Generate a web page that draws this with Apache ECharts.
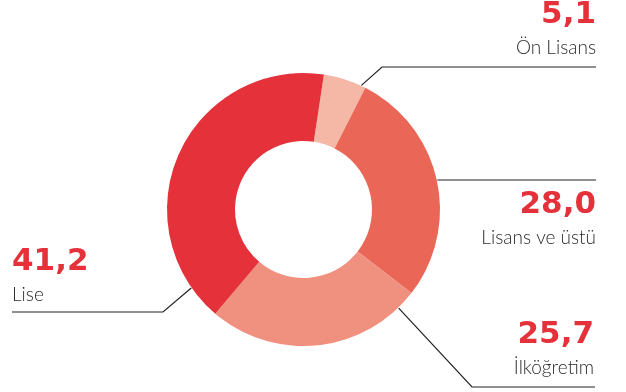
<!DOCTYPE html>
<html>
<head>
<meta charset="utf-8">
<script src="https://cdn.jsdelivr.net/npm/echarts@6/dist/echarts.min.js"></script>
<style>
html,body{margin:0;padding:0;background:#fff;}
#c{width:626px;height:392px;}
</style>
</head>
<body>
<div id="c"></div>
<script>
// Data
const categories = ['Ön Lisans', 'Lisans ve üstü', 'İlköğretim', 'Lise'];
const values = [5.1, 28.0, 25.7, 41.2];
const sliceColors = ['#F5B7A6', '#EA6657', '#F0907F', '#E4313A'];

// Layout (label placement; not data)
const CX = 303.5, CY = 209.5, R_IN = 68.5, R_OUT = 136.5;
const labelLayouts = [
  { x: 596, y: -3,  align: 'right', anchorDeg: 25,    elbow: [382, 67],  end: [596, 67] },
  { x: 596, y: 187, align: 'right', anchorDeg: 77.6,  elbow: null,       end: [596, 180] },
  { x: 594, y: 317, align: 'right', anchorDeg: 136,   elbow: [472, 387], end: [595, 387] },
  { x: 12,  y: 244, align: 'left',  anchorDeg: 235,   elbow: [163, 312], end: [12, 312] }
];

function anchor(deg) {
  const a = deg * Math.PI / 180;
  return [CX + (R_OUT + 0.5) * Math.sin(a), CY - (R_OUT + 0.5) * Math.cos(a)];
}

const chart = echarts.init(document.getElementById('c'), null, { renderer: 'canvas' });
chart.setOption({
  animation: false,
  backgroundColor: '#ffffff',
  series: [{
    type: 'pie',
    center: [CX, CY],
    radius: [R_IN, R_OUT],
    startAngle: 81.4,
    clockwise: true,
    avoidLabelOverlap: false,
    silent: true,
    data: categories.map((n, i) => ({
      name: n,
      value: values[i],
      itemStyle: { color: sliceColors[i] }
    })),
    label: {
      show: true,
      position: 'outside',
      formatter: p => '{v|' + p.value.toFixed(1).replace('.', ',') + '}\n{n|' + p.name + '}',
      rich: {
        v: { fontFamily: 'DejaVu Sans', fontWeight: 'bold', fontSize: 31, color: '#E4313A', lineHeight: 36 },
        n: { fontFamily: 'Lato', fontWeight: 300, fontSize: 19, color: '#2b2b2b', lineHeight: 29 }
      }
    },
    labelLine: {
      show: true,
      lineStyle: { color: '#222222', width: 1.2 }
    },
    labelLayout: function (params) {
      const L = labelLayouts[params.dataIndex];
      const s = anchor(L.anchorDeg);
      const mid = L.elbow ? L.elbow : [s[0], L.end[1]];
      const start = L.elbow ? s : [s[0], L.end[1]];
      return {
        x: L.x,
        y: L.y,
        align: L.align,
        verticalAlign: 'top',
        labelLinePoints: [start, mid, L.end]
      };
    }
  }]
});
</script>
</body>
</html>
